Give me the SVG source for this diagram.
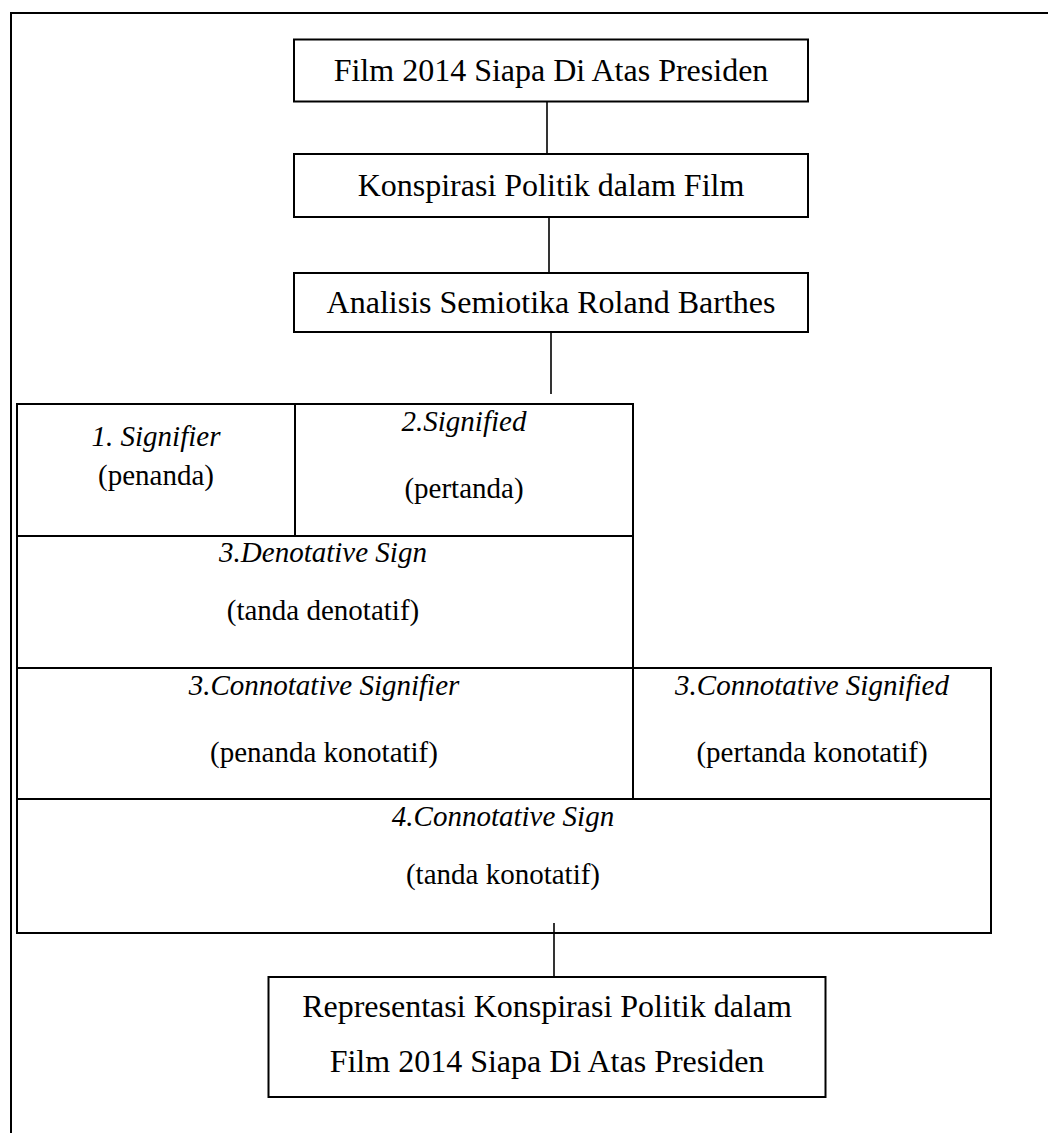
<svg xmlns="http://www.w3.org/2000/svg" width="1048" height="1133" viewBox="0 0 1048 1133">
<style>
.bx{fill:#fff;stroke:#000;stroke-width:2}
.ln{stroke:#000;stroke-width:2;fill:none}
.cn{stroke:#000;stroke-width:1.6;fill:none}
.t{font-family:"Liberation Serif","Times New Roman",serif;font-size:32px;fill:#000;text-anchor:middle}
.s{font-family:"Liberation Serif","Times New Roman",serif;font-size:29px;fill:#000;text-anchor:middle}
.i{font-style:italic}
</style>
<rect width="1048" height="1133" fill="#fff"/>
<path class="ln" d="M11 1133 V13 H1048"/>
<g id="n1">
<rect class="bx" x="294" y="39.5" width="514" height="62"/>
<text class="t" x="551" y="81">Film 2014 Siapa Di Atas Presiden</text>
</g>
<g id="n2">
<rect class="bx" x="294" y="154" width="514" height="63"/>
<text class="t" x="551" y="196">Konspirasi Politik dalam Film</text>
</g>
<g id="n3">
<rect class="bx" x="294" y="273" width="514" height="59"/>
<text class="t" x="551" y="313">Analisis Semiotika Roland Barthes</text>
</g>
<g id="table">
<g id="signifier">
<rect class="bx" x="17" y="404" width="278" height="132"/>
<text class="s i" x="156" y="446">1. Signifier</text>
<text class="s" x="156" y="485">(penanda)</text>
</g>
<g id="signified">
<rect class="bx" x="295" y="404" width="338" height="132"/>
<text class="s i" x="464" y="431">2.Signified</text>
<text class="s" x="464" y="498">(pertanda)</text>
</g>
<g id="denotative">
<rect class="bx" x="17" y="536" width="616" height="132"/>
<text class="s i" x="323" y="562">3.Denotative Sign</text>
<text class="s" x="323" y="620">(tanda denotatif)</text>
</g>
<g id="conn-signifier">
<rect class="bx" x="17" y="668" width="616" height="131"/>
<text class="s i" x="324" y="695">3.Connotative Signifier</text>
<text class="s" x="324" y="762">(penanda konotatif)</text>
</g>
<g id="conn-signified">
<rect class="bx" x="633" y="668" width="358" height="131"/>
<text class="s i" x="812" y="695">3.Connotative Signified</text>
<text class="s" x="812" y="762">(pertanda konotatif)</text>
</g>
<g id="conn-sign">
<rect class="bx" x="17" y="799" width="974" height="134"/>
<text class="s i" x="503" y="826">4.Connotative Sign</text>
<text class="s" x="503" y="884">(tanda konotatif)</text>
</g>
</g>
<g id="n4">
<rect class="bx" x="268.5" y="977" width="557" height="120"/>
<text class="t" x="547" y="1017">Representasi Konspirasi Politik dalam</text>
<text class="t" x="547" y="1072">Film 2014 Siapa Di Atas Presiden</text>
</g>
<g id="connectors">
<line class="cn" x1="547" y1="101.5" x2="547" y2="154"/>
<line class="cn" x1="549" y1="217" x2="549" y2="273"/>
<line class="cn" x1="551" y1="332" x2="551" y2="394"/>
<line class="cn" x1="554" y1="923" x2="554" y2="977"/>
</g>
</svg>
